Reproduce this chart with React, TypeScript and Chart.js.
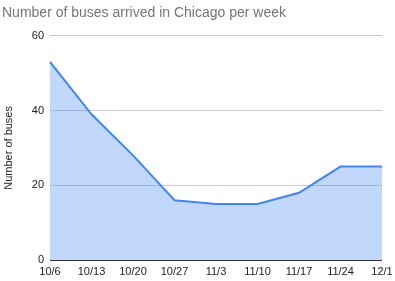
import React, { useEffect, useRef } from "react";
import { Chart, registerables } from "chart.js";

Chart.register(...registerables);

const categories = ["10/6", "10/13", "10/20", "10/27", "11/3", "11/10", "11/17", "11/24", "12/1"];
const buses = [53, 39, 28, 16, 15, 15, 18, 25, 25];
const yTicks = [0, 20, 40, 60];

export default function App() {
  const ref = useRef<HTMLCanvasElement | null>(null);
  useEffect(() => {
    if (!ref.current) return;
    const chart = new Chart(ref.current, {
      type: "line",
      data: {
        labels: categories,
        datasets: [
          {
            label: "Number of buses",
            data: buses,
            borderColor: "#4285f4",
            backgroundColor: "rgba(66,133,244,0.33)",
            borderWidth: 2,
            fill: "origin",
            pointRadius: 0,
            tension: 0,
          },
        ],
      },
      options: {
        animation: false,
        responsive: false,
        layout: { padding: { left: 2, right: 0, top: 0, bottom: 0 } },
        plugins: {
          legend: { display: false },
          tooltip: { enabled: false },
          title: {
            display: true,
            text: "Number of buses arrived in Chicago per week",
            align: "start",
            color: "#757575",
            font: { family: "Arial, 'Liberation Sans', sans-serif", size: 14, weight: "normal" },
            padding: { top: 5, bottom: 14 },
          },
        },
        scales: {
          x: {
            type: "category",
            offset: false,
            grid: { display: false, drawTicks: false },
            border: { display: false },
            ticks: {
              color: "#222",
              font: { family: "Arial, 'Liberation Sans', sans-serif", size: 11 },
              maxRotation: 0,
              autoSkip: false,
              padding: 5,
            },
            afterFit: (s: any) => {
              s.height = 21;
              s.paddingRight = 13;
            },
          },
          y: {
            min: 0,
            max: 60,
            afterBuildTicks: (s: any) => {
              s.ticks = yTicks.map((v) => ({ value: v }));
            },
            grid: {
              drawTicks: false,
              color: (c: any) => (c.tick && c.tick.value === 0 ? "#333" : "#ccc"),
              lineWidth: 1,
            },
            border: { display: false },
            ticks: {
              color: "#222",
              font: { family: "Arial, 'Liberation Sans', sans-serif", size: 11 },
              padding: 6,
            },
            title: {
              display: true,
              text: "Number of buses",
              color: "#222",
              font: { family: "Arial, 'Liberation Sans', sans-serif", size: 11 },
              padding: { top: 0, bottom: 0 },
            },
            afterFit: (s: any) => {
              s.width = 48;
            },
          },
        },
      },
    });
    return () => chart.destroy();
  }, []);
  return (
    <div style={{ position: "fixed", left: 0, top: 0, width: 395, height: 281, background: "#fff" }}>
      <canvas ref={ref} width={395} height={281} style={{ width: 395, height: 281 }} />
    </div>
  );
}
